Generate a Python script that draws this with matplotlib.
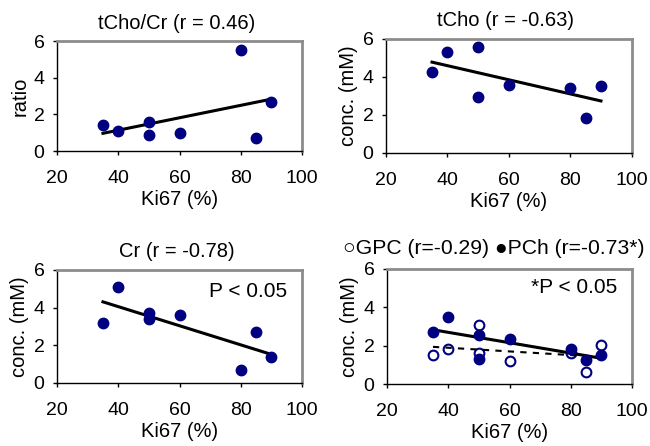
import numpy as np
import matplotlib
matplotlib.use("Agg")
import matplotlib.pyplot as plt

plt.rcParams['font.family'] = ['Liberation Sans', 'DejaVu Sans']

# Ki67 (%) per patient
ki67 = [35, 40, 50, 50, 60, 80, 85, 90]

# metabolite values
tcho_cr = [1.4, 1.1, 1.6, 0.9, 1.0, 5.5, 0.7, 2.65]
tcho = [4.25, 5.3, 5.6, 2.95, 3.6, 3.4, 1.85, 3.5]
cr = [3.2, 5.1, 3.7, 3.4, 3.6, 0.7, 2.7, 1.4]
pch = [2.7, 3.5, 2.55, 1.3, 2.35, 1.8, 1.25, 1.5]
gpc = [1.5, 1.85, 3.1, 1.6, 1.2, 1.6, 0.6, 2.05]

titles = ['tCho/Cr (r = 0.46)', 'tCho (r = -0.63)', 'Cr (r = -0.78)',
          '\u25cbGPC (r=-0.29) \u25cfPCh (r=-0.73*)']
ylabels = ['ratio', 'conc. (mM)', 'conc. (mM)', 'conc. (mM)']
xticks = [20, 40, 60, 80, 100]
yticks = [0, 2, 4, 6]

navy = '#000080'
fs = 14

fig = plt.figure(figsize=(6.5, 4.46), dpi=100)
rects = [
    [0.0877, 0.6614, 0.377, 0.2466],
    [0.5938, 0.6570, 0.378, 0.2556],
    [0.0877, 0.1413, 0.377, 0.2534],
    [0.5954, 0.1390, 0.377, 0.2580],
]
axes = [fig.add_axes(r) for r in rects]
title_x = [0.49, 0.485, 0.49, 0.437]
title_pad = [9, 9, 9, 11]
title_fs = [fs + 0.5, fs + 0.5, fs + 0.5, fs + 1.2]


def trend(ax, x, y, ls='-', lw=2.2):
    k, b = np.polyfit(x, y, 1)
    xs = np.array([min(x), max(x)])
    ax.plot(xs, k * xs + b, color='black', lw=lw, ls=ls, zorder=3)


def style(ax, title, ylabel, tx, tpad, tfs):
    ax.set_xlim(20, 100)
    ax.set_ylim(0, 6)
    ax.set_xticks(xticks)
    ax.set_yticks(yticks)
    ax.tick_params(labelsize=fs, length=3, width=1, direction='out')
    ax.tick_params(axis='x', pad=11)
    ax.tick_params(axis='y', pad=6)
    for s in ['top', 'right']:
        ax.spines[s].set_color('#8c8c8c')
        ax.spines[s].set_linewidth(2)
    for s in ['left', 'bottom']:
        ax.spines[s].set_color('black')
        ax.spines[s].set_linewidth(1)
    ax.set_xlabel('Ki67 (%)', fontsize=fs + 0.5, labelpad=2)
    ax.set_ylabel(ylabel, fontsize=fs + 0.5, labelpad=3)
    ax.set_title(title, fontsize=tfs, pad=tpad, x=tx)


for ax, y in zip(axes[:3], [tcho_cr, tcho, cr]):
    ax.plot(ki67, y, 'o', color=navy, ms=7.5, zorder=4, clip_on=False)
    trend(ax, ki67, y)

ax = axes[3]
ax.plot(ki67, pch, 'o', color=navy, ms=7.5, zorder=4)
ax.plot(ki67, gpc, 'o', mfc='white', mec=navy, mew=1.5, ms=7, zorder=2)
trend(ax, ki67, gpc, ls=(0, (3, 3)), lw=1.5)
trend(ax, ki67, pch)

for ax, t, yl, tx, tp, tf in zip(axes, titles, ylabels, title_x,
                                 title_pad, title_fs):
    style(ax, t, yl, tx, tp, tf)

axes[2].text(0.94, 0.81, 'P < 0.05', transform=axes[2].transAxes,
             ha='right', va='center', fontsize=fs + 1)
axes[3].text(0.94, 0.835, '*P < 0.05', transform=axes[3].transAxes,
             ha='right', va='center', fontsize=fs + 1)

fig.savefig('out.png', dpi=100)
